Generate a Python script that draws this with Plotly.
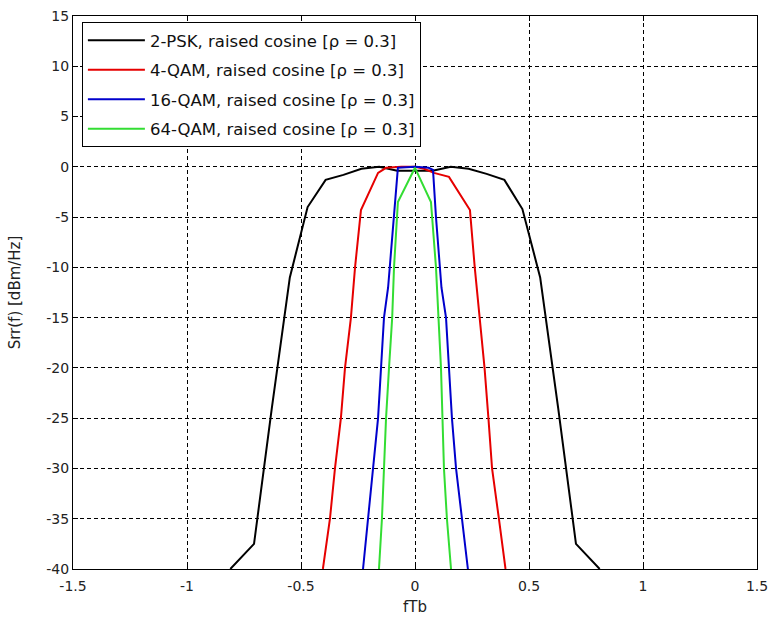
import plotly.graph_objects as go

# 2-PSK, raised cosine
psk2_x = [-0.81, -0.706, -0.628, -0.549, -0.471, -0.392, -0.314, -0.235, -0.157, -0.078, 0.0,
          0.078, 0.157, 0.235, 0.314, 0.392, 0.471, 0.549, 0.628, 0.706, 0.81]
psk2_y = [-40, -37.5, -24, -11, -4.0, -1.3, -0.8, -0.2, 0.0, -0.4, -0.4,
          -0.4, 0.0, -0.2, -0.7, -1.3, -4.2, -11, -24, -37.5, -40]

# 4-QAM, raised cosine
qam4_x = [-0.404, -0.373, -0.351, -0.325, -0.307, -0.281, -0.263, -0.237, -0.162, -0.127, -0.06, 0.0,
          0.04, 0.083, 0.149, 0.241, 0.262, 0.283, 0.305, 0.322, 0.338, 0.368, 0.397]
qam4_y = [-40, -35, -30, -25, -20, -15, -10, -4.3, -0.6, -0.1, 0.0, 0.0,
          -0.2, -0.6, -1.0, -4.3, -10, -15, -20, -25, -30, -35, -40]

# 16-QAM, raised cosine
qam16_x = [-0.228, -0.206, -0.184, -0.162, -0.149, -0.136, -0.118, -0.092, -0.075, 0.0,
           0.06, 0.079, 0.092, 0.116, 0.136, 0.149, 0.162, 0.18, 0.206, 0.232]
qam16_y = [-40, -35, -30, -25, -20, -15, -12, -5, -0.1, 0.0,
           -0.1, -0.3, -5, -12, -15, -20, -25, -30, -35, -40]

# 64-QAM, raised cosine
qam64_x = [-0.158, -0.145, -0.136, -0.127, -0.114, -0.1, -0.092, -0.075, 0.0,
           0.07, 0.092, 0.1, 0.114, 0.127, 0.14, 0.158]
qam64_y = [-40, -35, -30, -25, -20, -15, -10, -3.5, -0.1,
           -3.5, -10, -14, -20, -30, -35, -40]

series = [
    ("2-PSK, raised cosine [ρ = 0.3]", psk2_x, psk2_y, "#000000"),
    ("4-QAM, raised cosine [ρ = 0.3]", qam4_x, qam4_y, "#e60000"),
    ("16-QAM, raised cosine [ρ = 0.3]", qam16_x, qam16_y, "#0000cc"),
    ("64-QAM, raised cosine [ρ = 0.3]", qam64_x, qam64_y, "#33dd33"),
]

x_ticks = [-1.5, -1, -0.5, 0, 0.5, 1, 1.5]
x_tick_labels = ["-1.5", "-1", "-0.5", "0", "0.5", "1", "1.5"]
y_ticks = [-40, -35, -30, -25, -20, -15, -10, -5, 0, 5, 10, 15]
y_tick_labels = [str(v) for v in y_ticks]

fig = go.Figure()
for i, (name, xs, ys, col) in enumerate(series):
    fig.add_trace(go.Scatter(x=xs, y=ys, mode="lines", name=name,
                             legendgroup=f"g{i}",
                             line=dict(color=col, width=2)))

FONT = "DejaVu Sans, Liberation Sans, Arial, sans-serif"
axis_common = dict(
    showline=True, linecolor="black", linewidth=1, mirror="ticks",
    ticks="inside", ticklen=5, tickcolor="black",
    showgrid=True, gridcolor="black", gridwidth=1, griddash="4px,3px",
    zeroline=False, automargin=False,
    tickfont=dict(family=FONT, size=14, color="#222222"),
)

fig.update_layout(
    width=771, height=620,
    margin=dict(l=73, r=14, t=16, b=51),
    paper_bgcolor="white", plot_bgcolor="white",
    font=dict(family=FONT, size=14, color="#222222"),
    showlegend=True,
    legend=dict(
        x=0.013, y=0.989, xanchor="left", yanchor="top",
        bgcolor="white", bordercolor="black", borderwidth=1,
        font=dict(family=FONT, size=16.5, color="#111111"),
        itemwidth=57, tracegroupgap=5,
    ),
    xaxis=dict(range=[-1.5, 1.5], tickvals=x_ticks, ticktext=x_tick_labels,
               ticklabelstandoff=4,
               title=dict(text="fTb", font=dict(family=FONT, size=15), standoff=8),
               **axis_common),
    yaxis=dict(range=[-40, 15], tickvals=y_ticks, ticktext=y_tick_labels,
               title=dict(text="Srr(f) [dBm/Hz]", font=dict(family=FONT, size=15), standoff=22),
               **axis_common),
)

fig.write_html("out.html")
